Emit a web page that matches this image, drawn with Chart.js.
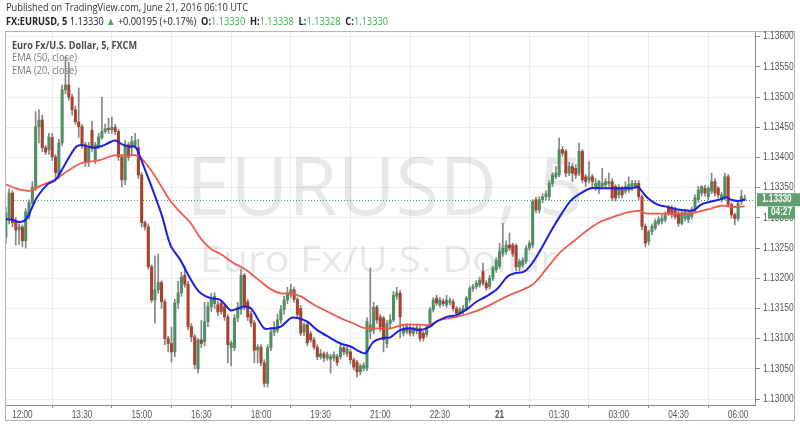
<!DOCTYPE html>
<html>
<head>
<meta charset="utf-8">
<script src="https://cdn.jsdelivr.net/npm/chart.js@4.4.0/dist/chart.umd.min.js"></script>
<style>
  html, body { margin: 0; padding: 0; background: #fff; }
  canvas { display: block; }
</style>
</head>
<body>
<canvas id="chart" width="800" height="426"></canvas>
<script>
// EURUSD 5 min candles, index 0 = 12:00 (June 20), first bar is index -5
const firstIdx = -5;
const opens = [
  1.13268,1.13300,1.13341,1.13295,1.13280,1.13285,1.13262,1.13302,1.13325,1.13351,
  1.13451,1.13462,1.13416,1.13413,1.13433,1.13401,1.13371,1.13424,1.13512,1.13520,
  1.13500,1.13479,1.13459,1.13451,1.13421,1.13393,1.13445,1.13396,1.13418,1.13433,
  1.13443,1.13448,1.13446,1.13450,1.13443,1.13401,1.13363,1.13421,1.13416,1.13420,
  1.13416,1.13371,1.13292,1.13285,1.13219,1.13164,1.13181,1.13193,1.13161,1.13100,
  1.13092,1.13078,1.13159,1.13176,1.13205,1.13190,1.13120,1.13103,1.13050,1.13098,
  1.13095,1.13128,1.13153,1.13158,1.13156,1.13159,1.13153,1.13136,1.13085,1.13085,
  1.13134,1.13148,1.13205,1.13161,1.13141,1.13126,1.13081,1.13086,1.13060,1.13026,
  1.13085,1.13111,1.13114,1.13131,1.13148,1.13164,1.13172,1.13181,1.13165,1.13150,
  1.13111,1.13123,1.13108,1.13098,1.13086,1.13070,1.13075,1.13068,1.13066,1.13068,
  1.13070,1.13070,1.13085,1.13075,1.13078,1.13065,1.13061,1.13045,1.13051,1.13051,
  1.13112,1.13114,1.13152,1.13136,1.13134,1.13092,1.13125,1.13131,1.13170,1.13175,
  1.13109,1.13112,1.13117,1.13109,1.13113,1.13117,1.13109,1.13107,1.13125,1.13148,
  1.13167,1.13156,1.13162,1.13156,1.13160,1.13161,1.13150,1.13142,1.13145,1.13150,
  1.13164,1.13183,1.13186,1.13189,1.13211,1.13192,1.13186,1.13200,1.13214,1.13220,
  1.13241,1.13244,1.13255,1.13255,1.13254,1.13219,1.13222,1.13228,1.13250,1.13255,
  1.13330,1.13313,1.13330,1.13335,1.13335,1.13357,1.13368,1.13371,1.13413,1.13410,
  1.13374,1.13385,1.13382,1.13374,1.13410,1.13368,1.13363,1.13368,1.13352,1.13349,
  1.13352,1.13355,1.13357,1.13360,1.13352,1.13338,1.13349,1.13344,1.13346,1.13349,
  1.13352,1.13357,1.13335,1.13286,1.13261,1.13277,1.13283,1.13291,1.13294,1.13297,
  1.13316,1.13316,1.13313,1.13308,1.13291,1.13299,1.13297,1.13302,1.13313,1.13330,
  1.13341,1.13349,1.13335,1.13344,1.13360,1.13349,1.13330,1.13335,1.13368,1.13322,
  1.13305,1.13299,1.13327,1.13330
];
const highs = [
  1.13318,1.13348,1.13345,1.13300,1.13290,1.13288,1.13315,1.13330,1.13360,1.13476,
  1.13479,1.13470,1.13420,1.13440,1.13440,1.13405,1.13430,1.13520,1.13567,1.13558,
  1.13505,1.13485,1.13515,1.13455,1.13425,1.13425,1.13460,1.13425,1.13440,1.13500,
  1.13455,1.13465,1.13467,1.13455,1.13447,1.13405,1.13428,1.13425,1.13435,1.13440,
  1.13430,1.13375,1.13295,1.13290,1.13222,1.13237,1.13240,1.13196,1.13165,1.13104,
  1.13119,1.13165,1.13195,1.13210,1.13220,1.13195,1.13125,1.13107,1.13100,1.13130,
  1.13160,1.13160,1.13175,1.13176,1.13162,1.13163,1.13158,1.13140,1.13096,1.13140,
  1.13160,1.13215,1.13208,1.13165,1.13145,1.13130,1.13090,1.13090,1.13065,1.13090,
  1.13118,1.13128,1.13140,1.13155,1.13170,1.13185,1.13190,1.13185,1.13168,1.13155,
  1.13126,1.13127,1.13112,1.13102,1.13090,1.13082,1.13078,1.13078,1.13074,1.13078,
  1.13074,1.13090,1.13088,1.13087,1.13082,1.13068,1.13064,1.13058,1.13060,1.13135,
  1.13217,1.13160,1.13155,1.13140,1.13137,1.13130,1.13140,1.13178,1.13185,1.13180,
  1.13122,1.13125,1.13122,1.13120,1.13123,1.13120,1.13112,1.13122,1.13152,1.13168,
  1.13172,1.13168,1.13166,1.13172,1.13167,1.13165,1.13153,1.13152,1.13155,1.13170,
  1.13187,1.13190,1.13196,1.13202,1.13225,1.13196,1.13205,1.13220,1.13234,1.13258,
  1.13291,1.13262,1.13275,1.13258,1.13257,1.13232,1.13234,1.13254,1.13262,1.13330,
  1.13334,1.13335,1.13340,1.13345,1.13362,1.13375,1.13385,1.13432,1.13418,1.13413,
  1.13392,1.13390,1.13388,1.13424,1.13413,1.13372,1.13393,1.13372,1.13365,1.13362,
  1.13382,1.13365,1.13374,1.13365,1.13355,1.13355,1.13352,1.13360,1.13368,1.13362,
  1.13362,1.13362,1.13338,1.13290,1.13280,1.13290,1.13298,1.13302,1.13305,1.13310,
  1.13320,1.13320,1.13318,1.13312,1.13312,1.13314,1.13312,1.13318,1.13338,1.13352,
  1.13353,1.13354,1.13352,1.13374,1.13365,1.13352,1.13342,1.13374,1.13372,1.13325,
  1.13308,1.13328,1.13346,1.13338
];
const lows = [
  1.13258,1.13290,1.13285,1.13255,1.13256,1.13252,1.13250,1.13298,1.13320,1.13345,
  1.13424,1.13410,1.13405,1.13405,1.13395,1.13363,1.13365,1.13420,1.13505,1.13495,
  1.13470,1.13455,1.13433,1.13415,1.13385,1.13385,1.13410,1.13390,1.13415,1.13430,
  1.13440,1.13440,1.13440,1.13438,1.13395,1.13351,1.13355,1.13395,1.13405,1.13415,
  1.13365,1.13285,1.13280,1.13215,1.13160,1.13126,1.13175,1.13150,1.13090,1.13078,
  1.13061,1.13070,1.13150,1.13170,1.13185,1.13115,1.13095,1.13050,1.13043,1.13085,
  1.13088,1.13120,1.13145,1.13150,1.13138,1.13140,1.13130,1.13060,1.13055,1.13080,
  1.13128,1.13140,1.13148,1.13130,1.13120,1.13060,1.13060,1.13055,1.13020,1.13020,
  1.13080,1.13105,1.13110,1.13125,1.13140,1.13158,1.13168,1.13160,1.13135,1.13105,
  1.13105,1.13088,1.13094,1.13082,1.13065,1.13066,1.13062,1.13064,1.13043,1.13063,
  1.13055,1.13066,1.13073,1.13070,1.13058,1.13048,1.13036,1.13040,1.13047,1.13047,
  1.13100,1.13108,1.13125,1.13112,1.13078,1.13085,1.13118,1.13128,1.13165,1.13101,
  1.13104,1.13108,1.13104,1.13104,1.13108,1.13096,1.13096,1.13103,1.13120,1.13144,
  1.13155,1.13152,1.13154,1.13152,1.13156,1.13146,1.13138,1.13138,1.13141,1.13146,
  1.13160,1.13178,1.13182,1.13185,1.13188,1.13180,1.13182,1.13196,1.13210,1.13216,
  1.13236,1.13240,1.13246,1.13236,1.13212,1.13212,1.13218,1.13224,1.13246,1.13250,
  1.13308,1.13308,1.13325,1.13330,1.13330,1.13352,1.13365,1.13368,1.13402,1.13368,
  1.13370,1.13360,1.13365,1.13370,1.13358,1.13352,1.13358,1.13350,1.13345,1.13340,
  1.13348,1.13350,1.13352,1.13328,1.13328,1.13333,1.13333,1.13340,1.13342,1.13345,
  1.13348,1.13330,1.13280,1.13252,1.13255,1.13272,1.13280,1.13288,1.13290,1.13293,
  1.13304,1.13300,1.13298,1.13286,1.13288,1.13295,1.13292,1.13298,1.13310,1.13326,
  1.13336,1.13336,1.13330,1.13340,1.13336,1.13333,1.13326,1.13330,1.13318,1.13300,
  1.13288,1.13295,1.13322,1.13328
];
const closes = [
  1.13308,1.13341,1.13292,1.13280,1.13285,1.13262,1.13310,1.13325,1.13351,1.13451,
  1.13462,1.13416,1.13409,1.13434,1.13401,1.13375,1.13424,1.13512,1.13520,1.13500,
  1.13479,1.13459,1.13451,1.13421,1.13393,1.13418,1.13416,1.13421,1.13434,1.13443,
  1.13448,1.13446,1.13450,1.13443,1.13401,1.13363,1.13421,1.13401,1.13426,1.13428,
  1.13371,1.13292,1.13285,1.13219,1.13164,1.13181,1.13193,1.13161,1.13100,1.13092,
  1.13078,1.13159,1.13176,1.13202,1.13190,1.13120,1.13103,1.13057,1.13098,1.13092,
  1.13128,1.13153,1.13164,1.13170,1.13144,1.13145,1.13136,1.13090,1.13093,1.13134,
  1.13151,1.13205,1.13153,1.13136,1.13126,1.13081,1.13086,1.13060,1.13026,1.13085,
  1.13111,1.13116,1.13131,1.13148,1.13164,1.13175,1.13181,1.13165,1.13140,1.13109,
  1.13123,1.13093,1.13098,1.13086,1.13070,1.13075,1.13068,1.13073,1.13070,1.13073,
  1.13060,1.13085,1.13078,1.13083,1.13065,1.13053,1.13045,1.13055,1.13056,1.13128,
  1.13123,1.13152,1.13131,1.13119,1.13098,1.13125,1.13131,1.13172,1.13176,1.13136,
  1.13117,1.13120,1.13109,1.13117,1.13118,1.13100,1.13101,1.13117,1.13148,1.13164,
  1.13159,1.13164,1.13158,1.13164,1.13163,1.13150,1.13142,1.13148,1.13150,1.13167,
  1.13183,1.13186,1.13192,1.13197,1.13192,1.13184,1.13200,1.13217,1.13230,1.13244,
  1.13250,1.13255,1.13250,1.13241,1.13219,1.13228,1.13230,1.13250,1.13258,1.13327,
  1.13313,1.13330,1.13335,1.13340,1.13357,1.13371,1.13374,1.13413,1.13407,1.13374,
  1.13385,1.13374,1.13371,1.13410,1.13363,1.13360,1.13368,1.13360,1.13357,1.13360,
  1.13357,1.13360,1.13360,1.13333,1.13333,1.13349,1.13338,1.13352,1.13355,1.13357,
  1.13357,1.13335,1.13286,1.13258,1.13277,1.13286,1.13294,1.13297,1.13299,1.13305,
  1.13308,1.13305,1.13302,1.13291,1.13308,1.13310,1.13308,1.13313,1.13333,1.13346,
  1.13352,1.13341,1.13349,1.13360,1.13341,1.13338,1.13338,1.13368,1.13322,1.13305,
  1.13299,1.13324,1.13335,1.13330
];

// EMA lines (x = bar index, y = price)
const ema20At = [-5.3,-3,-1,1,3,4.5,7.5,10,12.5,14.5,16.5,18.5,21.5,24,26,28,30,32,34,35,
  37,39.7,42.2,44.7,47.7,49.8,51.8,53.8,56.8,59.8,62.8,65,67,69,71,73,75,78,81,83,
  86,89,93,96,99,102,103.6,106,109,111,114,117,120,123,125,128,131,134,137,140,
  143.4,146.4,148.4,151.4,153.5,156.5,159.5,162.5,165.6,168.6,171.6,174.6,177.6,180.7,183.7,185.7,186.7,188.7,191.7,194.8,
  197.8,200.8,202.8,204.8,207.9,210.9,212.4,213.9,215.9,218];
const ema20 = [1.13298,1.13297,1.13293,1.13297,1.13318,1.13335,1.13355,1.13363,1.13385,1.13404,
  1.13419,1.13420,1.13416,1.13419,1.13424,1.13428,1.13422,1.13418,1.13418,1.13408,
  1.13380,1.13341,1.13302,1.13255,1.13230,1.13208,1.13189,1.13175,1.13167,1.13164,
  1.13147,1.13150,1.13153,1.13150,1.13133,1.13117,1.13117,1.13120,1.13134,1.13134,
  1.13128,1.13114,1.13101,1.13092,1.13087,1.13078,1.13076,1.13095,1.13101,1.13102,
  1.13114,1.13117,1.13114,1.13120,1.13128,1.13136,1.13139,1.13148,1.13161,1.13170,
  1.13183,1.13203,1.13208,1.13211,1.13222,1.13248,1.13278,1.13305,1.13329,1.13341,
  1.13349,1.13349,1.13349,1.13349,1.13349,1.13351,1.13346,1.13333,1.13322,1.13318,
  1.13314,1.13312,1.13313,1.13322,1.13327,1.13331,1.13334,1.13330,1.13328,1.13330];
const ema50At = [-5.3,-1,2.4,5.4,10,13.5,17.5,20.5,23.6,26.6,28.6,31.6,34,35.6,38.7,41.7,44.7,47.7,50.8,53.8,
  56.8,59.8,63.8,66.9,70.9,74.9,78,81,84,88,92,96,100,103,107,111,115,120,123,126,
  131,135,139,143,147,151,154.5,158.5,162.5,166.6,170.6,174.6,178.6,182.7,186.7,187.7,191.7,196.8,200.8,203.8,
  206.9,210.9,214.9,218];
const ema50 = [1.13356,1.13347,1.13345,1.13353,1.13364,1.13377,1.13390,1.13393,1.13396,1.13402,
  1.13404,1.13403,1.13404,1.13400,1.13380,1.13354,1.13328,1.13309,1.13291,1.13266,
  1.13249,1.13240,1.13225,1.13216,1.13199,1.13182,1.13175,1.13175,1.13170,1.13156,
  1.13145,1.13134,1.13125,1.13118,1.13117,1.13117,1.13123,1.13123,1.13123,1.13131,
  1.13136,1.13142,1.13150,1.13161,1.13172,1.13181,1.13192,1.13218,1.13244,1.13262,
  1.13280,1.13294,1.13302,1.13309,1.13312,1.13308,1.13307,1.13307,1.13307,1.13310,
  1.13314,1.13320,1.13318,1.13319];

// axes
const tickIdx = [0,18,36,54,72,90,108,126,144,162,180,198,216];
const tickLabels = ['12:00','13:30','15:00','16:30','18:00','19:30','21:00','22:30','21','01:30','03:00','04:30','06:00'];
const dayTick = 144;
const yTicks = [1.13000,1.13050,1.13100,1.13150,1.13200,1.13250,1.13300,1.13350,1.13400,1.13450,1.13500,1.13550,1.13600];

const UP = '#4d8f62', DOWN = '#a8412f', WICK = '#858585';
const SANS = '"Open Sans", "Liberation Sans", Arial, sans-serif';
const AXIS = '"Liberation Sans", Arial, sans-serif';

const bodies = opens.map((o, k) => ({ x: firstIdx + k, y: [o, closes[k]] }));
const wicks = lows.map((l, k) => ({ x: firstIdx + k, y: [l, highs[k]] }));
const bodyColors = opens.map((o, k) => closes[k] >= o ? UP : DOWN);
const lastK = closes.length - 1;

// draw text stretched/condensed to a given width
function runWidth(ctx, parts, size) {
  let w = 0;
  parts.forEach(p => { ctx.font = (p[2] ? 'bold ' : '') + size + 'px ' + SANS; w += ctx.measureText(p[0]).width; });
  return w;
}
function drawRun(ctx, parts, x, y, width, size) {
  const k = width / runWidth(ctx, parts, size);
  ctx.save();
  ctx.translate(x, y);
  ctx.scale(k, 1);
  ctx.textBaseline = 'middle';
  ctx.textAlign = 'left';
  let cx = 0;
  parts.forEach(p => {
    ctx.font = (p[2] ? 'bold ' : '') + size + 'px ' + SANS;
    ctx.fillStyle = p[1];
    ctx.fillText(p[0], cx, 0);
    cx += ctx.measureText(p[0]).width;
  });
  ctx.restore();
}
// narrow axis text (the original uses a condensed face)
function narrowText(ctx, text, x, y, align, font, k) {
  ctx.save();
  ctx.translate(x, y);
  ctx.scale(k, 1);
  ctx.font = font;
  ctx.textAlign = align;
  ctx.textBaseline = 'middle';
  ctx.fillText(text, 0, 0);
  ctx.restore();
}

const decor = {
  id: 'decor',
  beforeDatasetsDraw(chart) {
    const { ctx, chartArea: a, scales } = chart;
    ctx.save();
    ctx.beginPath(); ctx.rect(a.left, a.top, a.right - a.left, a.bottom - a.top); ctx.clip();
    // watermark
    drawRun(ctx, [['EURUSD, 5', 'rgba(0,0,0,0.09)']], 186, 192, 398, 80);
    drawRun(ctx, [['Euro Fx/U.S. Dollar', 'rgba(0,0,0,0.09)']], 200, 262, 357, 36);
    // last price dotted line
    const py = Math.round(scales.y.getPixelForValue(closes[lastK])) + 0.5;
    ctx.strokeStyle = '#4c9a62';
    ctx.lineWidth = 1;
    ctx.setLineDash([1, 2]);
    ctx.beginPath(); ctx.moveTo(a.left, py); ctx.lineTo(a.right, py); ctx.stroke();
    ctx.restore();
  },
  afterDraw(chart) {
    const { ctx, scales, chartArea: a } = chart;
    ctx.save();
    // frame
    ctx.strokeStyle = '#b5b5b5';
    ctx.lineWidth = 1;
    ctx.strokeRect(5.5, 31.5, 789, 389);
    // axis labels
    ctx.fillStyle = '#555';
    yTicks.forEach(v => narrowText(ctx, v.toFixed(5), a.right + 8, scales.y.getPixelForValue(v), 'left', '10px ' + AXIS, 0.85));
    tickIdx.forEach((v, k) => narrowText(ctx, tickLabels[k], scales.x.getPixelForValue(v), a.bottom + 10,
      'center', (v === dayTick ? 'bold ' : '') + '10px ' + AXIS, 0.82));
    // header
    drawRun(ctx, [['Published on TradingView.com, June 21, 2016 06:10 UTC', '#333']], 6, 8, 242, 11);
    const G = '#3fae49', D = '#222';
    drawRun(ctx, [
      ['FX:EURUSD, 5 ', D, true], [closes[lastK].toFixed(5) + ' ', D], ['\u25B2', G], [' +0.00195 (+0.17%)  ', D],
      ['O:', D, true], [opens[lastK].toFixed(5), G], ['  H:', D, true], [highs[lastK].toFixed(5), G],
      ['  L:', D, true], [lows[lastK].toFixed(5), G], ['  C:', D, true], [closes[lastK].toFixed(5), G]
    ], 6, 22, 382, 11);
    // legend
    drawRun(ctx, [['Euro Fx/U.S. Dollar, 5, FXCM', '#4a4a4a', true]], 12, 45.5, 125, 11);
    drawRun(ctx, [['EMA (50, close)', '#7a7a7a']], 12, 58, 65, 11);
    drawRun(ctx, [['EMA (20, close)', '#7a7a7a']], 12, 70.5, 65, 11);
    // price label on axis
    const py = scales.y.getPixelForValue(closes[lastK]);
    ctx.fillStyle = '#5f9e6e';
    ctx.fillRect(757, py - 6.5, 43, 13);
    ctx.fillRect(768, py + 7, 27, 12);
    ctx.fillStyle = '#fff';
    narrowText(ctx, closes[lastK].toFixed(5), 762, py, 'left', 'bold 10px ' + AXIS, 0.82);
    narrowText(ctx, '04:27', 781.5, py + 13, 'center', 'bold 10px ' + AXIS, 0.82);
    ctx.restore();
  }
};

new Chart(document.getElementById('chart'), {
  type: 'bar',
  data: {
    datasets: [
      { type: 'line', label: 'EMA 20', data: ema20At.map((x, k) => ({ x, y: ema20[k] })),
        borderColor: '#1c1ee0', borderWidth: 2, pointRadius: 0, tension: 0.35, order: 0 },
      { type: 'line', label: 'EMA 50', data: ema50At.map((x, k) => ({ x, y: ema50[k] })),
        borderColor: '#ef5a50', borderWidth: 1.8, pointRadius: 0, tension: 0.35, order: 1 },
      { label: 'body', data: bodies, backgroundColor: bodyColors, barThickness: 2.4,
        minBarLength: 1, grouped: false, borderWidth: 0, order: 2 },
      { label: 'wick', data: wicks, backgroundColor: WICK, barThickness: 1,
        grouped: false, borderWidth: 0, order: 3 }
    ]
  },
  options: {
    responsive: false,
    animation: false,
    layout: { padding: { left: 5, top: 31, right: 5, bottom: 5 } },
    plugins: { legend: { display: false }, tooltip: { enabled: false } },
    scales: {
      x: {
        type: 'linear', min: -5.25, max: 221.1, offset: false,
        afterBuildTicks: s => { s.ticks = tickIdx.map(v => ({ value: v })); },
        afterFit: s => { s.height = 16; },
        grid: { color: '#ececec', tickColor: '#8a8a8a', tickLength: 3 },
        border: { color: '#8c8c8c' },
        ticks: { display: false }
      },
      y: {
        position: 'right', min: 1.129901, max: 1.136094,
        afterBuildTicks: s => { s.ticks = yTicks.map(v => ({ value: v })); },
        afterFit: s => { s.width = 40; },
        grid: { color: '#ececec', tickColor: '#8a8a8a', tickLength: 5 },
        border: { color: '#8c8c8c' },
        ticks: { display: false }
      }
    }
  },
  plugins: [decor]
});
</script>
</body>
</html>
